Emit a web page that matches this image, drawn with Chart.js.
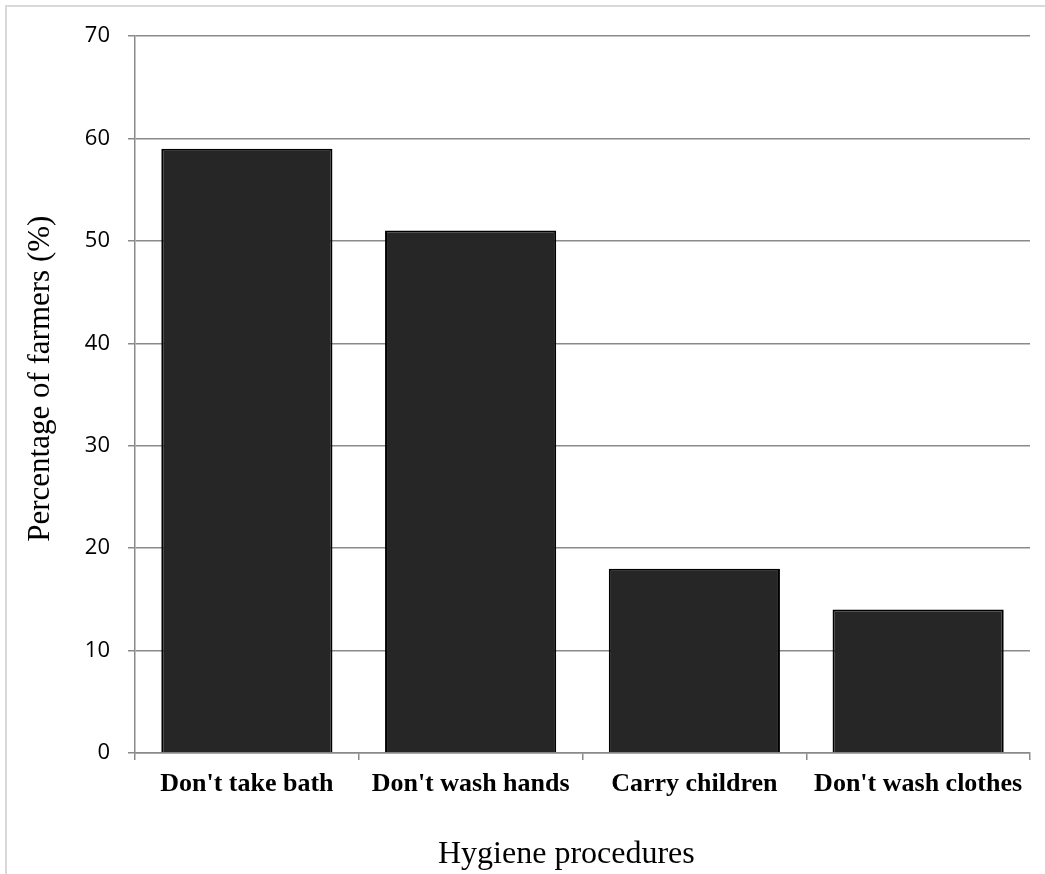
<!DOCTYPE html>
<html>
<head>
<meta charset="utf-8">
<script src="https://cdn.jsdelivr.net/npm/chart.js@4.4.1/dist/chart.umd.min.js"></script>
<style>
  html, body { margin: 0; padding: 0; background: #fff; }
  #wrap { position: relative; width: 1045px; height: 874px; overflow: hidden; }
  #frame {
    position: absolute; left: 5px; top: 5px; width: 1200px; height: 1000px;
    border-left: 2px solid #d9d9d9; border-top: 2px solid #d9d9d9;
  }
  #chart { position: absolute; left: 0; top: 0; }
</style>
</head>
<body>
<div id="wrap">
  <div id="frame"></div>
  <canvas id="chart" width="1045" height="874"></canvas>
</div>
<script>
// Share of farmers reporting each hygiene lapse
const categories = ["Don't take bath", "Don't wash hands", "Carry children", "Don't wash clothes"];
const percentages = [59, 51, 18, 14];
const yTicks = [0, 10, 20, 30, 40, 50, 60, 70];
const xTitle = 'Hygiene procedures';
const yTitle = 'Percentage of farmers (%)';

const gridColor = '#8a8a8a';
const serif = 'Liberation Serif, Times New Roman, serif';

// Axis captions, placed a little off-centre like the original layout
const axisCaptions = {
  id: 'axisCaptions',
  afterDraw(chart) {
    const { ctx, chartArea: a } = chart;
    ctx.save();
    ctx.fillStyle = '#000';
    ctx.font = '32px ' + serif;
    ctx.textAlign = 'center';
    ctx.textBaseline = 'alphabetic';
    ctx.fillText(xTitle, a.left + a.width * 0.482, a.bottom + 110);
    ctx.translate(49, a.top + a.height * 0.478);
    ctx.rotate(-Math.PI / 2);
    ctx.font = '31px ' + serif;
    ctx.fillText(yTitle, 0, 0);
    ctx.restore();
  }
};

new Chart(document.getElementById('chart'), {
  type: 'bar',
  data: {
    labels: categories,
    datasets: [{
      data: percentages,
      backgroundColor: '#262626',
      borderColor: '#000000',
      borderWidth: 2,
      categoryPercentage: 1.0,
      barPercentage: 0.765
    }]
  },
  plugins: [axisCaptions],
  options: {
    responsive: false,
    animation: false,
    layout: { padding: { top: 36, right: 15, left: 0, bottom: 0 } },
    plugins: { legend: { display: false }, tooltip: { enabled: false } },
    scales: {
      x: {
        afterFit: s => { s.height = 121; },
        grid: {
          offset: true,
          drawOnChartArea: false,
          drawTicks: true,
          tickLength: 7,
          color: gridColor,
          lineWidth: 1.5
        },
        border: { color: gridColor, width: 1.5 },
        ticks: {
          color: '#000',
          padding: 9,
          font: { family: serif, size: 26, weight: 'bold' }
        }
      },
      y: {
        min: 0,
        max: 70,
        afterFit: s => { s.width = 135; },
        afterBuildTicks: s => { s.ticks = yTicks.map(v => ({ value: v })); },
        grid: {
          color: gridColor,
          lineWidth: 1.5,
          drawTicks: true,
          tickLength: 7
        },
        border: { color: gridColor, width: 1.5 },
        ticks: {
          color: '#000',
          padding: 18,
          font: { family: 'Open Sans, sans-serif', size: 22 }
        }
      }
    }
  }
});
</script>
</body>
</html>
